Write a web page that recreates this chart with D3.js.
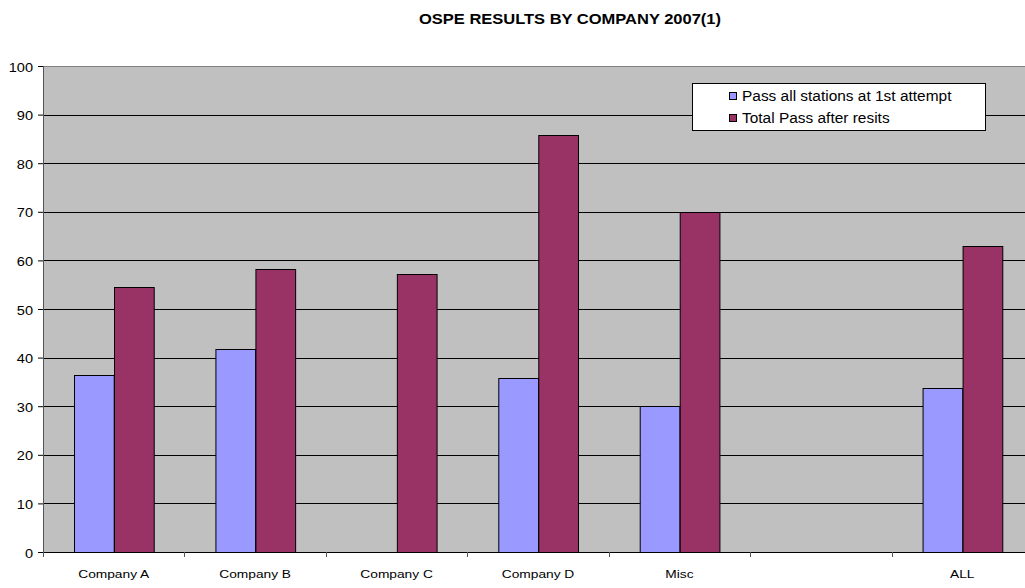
<!DOCTYPE html>
<html>
<head>
<meta charset="utf-8">
<script src="https://cdn.jsdelivr.net/npm/d3@7"></script>
<style>
  body { margin: 0; background: #fff; }
  svg { font-family: "Liberation Sans", Arial, sans-serif; }
</style>
</head>
<body>
<div id="chart"></div>
<script>
// data
var categories = ["Company A", "Company B", "Company C", "Company D", "Misc", "", "ALL"];
var firstAttempt = [36.4, 41.7, null, 35.7, 30, null, 33.7];
var totalPass = [54.5, 58.3, 57.1, 85.7, 70, null, 63.0];
var seriesNames = ["Pass all stations at 1st attempt", "Total Pass after resits"];
var yTicks = [0, 10, 20, 30, 40, 50, 60, 70, 80, 90, 100];

var colors = ["#9999ff", "#993366"];

var W = 1025, H = 588;
var margin = {top: 66, right: -8, bottom: 36, left: 43};
var width = W - margin.left - margin.right;
var height = H - margin.top - margin.bottom;

var svg = d3.select("#chart").append("svg")
    .attr("width", W)
    .attr("height", H);

// title (the original text looks stretched sideways)
svg.append("text")
    .attr("transform", "translate(570,24) scale(1.1,1)")
    .attr("text-anchor", "middle")
    .attr("font-size", "15px")
    .attr("font-weight", "bold")
    .text("OSPE RESULTS BY COMPANY 2007(1)");

var g = svg.append("g")
    .attr("transform", "translate(" + margin.left + "," + margin.top + ")");

var xscale = d3.scaleBand()
    .domain(d3.range(categories.length))
    .range([0, width])
    .paddingInner(0)
    .paddingOuter(0);

var inner = d3.scaleBand()
    .domain([0, 1])
    .range([31, xscale.bandwidth() - 31])
    .padding(0);

var yscale = d3.scaleLinear()
    .domain([0, 100])
    .range([height, 0]);

// plot background
g.append("rect")
    .attr("x", 0).attr("y", 0)
    .attr("width", width).attr("height", height)
    .attr("fill", "#c0c0c0");

// top border
g.append("line")
    .attr("x1", 0).attr("x2", width)
    .attr("y1", 0.5).attr("y2", 0.5)
    .attr("stroke", "#808080");

// gridlines
g.selectAll(".grid")
    .data(yTicks.filter(function(d) { return d > 0 && d < 100; }))
    .enter().append("line")
    .attr("class", "grid")
    .attr("x1", 0).attr("x2", width)
    .attr("y1", function(d) { return Math.round(yscale(d)) + 0.5; })
    .attr("y2", function(d) { return Math.round(yscale(d)) + 0.5; })
    .attr("stroke", "#000");

// bars
var rows = categories.map(function(c, i) {
  return {i: i, vals: [firstAttempt[i], totalPass[i]]};
});

var groups = g.selectAll(".grp")
    .data(rows)
    .enter().append("g")
    .attr("class", "grp")
    .attr("transform", function(d) { return "translate(" + xscale(d.i) + ",0)"; });

groups.selectAll("rect")
    .data(function(d) {
      return d.vals.map(function(v, k) { return {k: k, v: v}; })
        .filter(function(e) { return e.v != null; });
    })
    .enter().append("rect")
    .attr("x", function(d) { return Math.round(inner(d.k)) + 0.5; })
    .attr("width", inner.bandwidth())
    .attr("y", function(d) { return Math.round(yscale(d.v)) + 0.5; })
    .attr("height", function(d) { return Math.round(height - yscale(d.v)); })
    .attr("fill", function(d) { return colors[d.k]; })
    .attr("stroke", "#000")
    .attr("stroke-width", 1);

// y axis
var yaxis = d3.axisLeft(yscale).tickValues(yTicks).tickSize(5).tickFormat("");
var ya = g.append("g").attr("class", "y_axis").call(yaxis);
ya.select(".domain").attr("stroke", "#555").attr("d", "M0.5,0V" + height);
ya.selectAll(".tick line").attr("stroke", "#000");
ya.selectAll(".tick").append("text")
    .attr("transform", "translate(-10,5) scale(1.12,1)")
    .attr("text-anchor", "end")
    .attr("font-size", "13px")
    .attr("fill", "#000")
    .attr("font-family", "Liberation Sans, Arial, sans-serif")
    .text(function(d) { return d; });

// x axis
var xa = g.append("g")
    .attr("transform", "translate(0," + height + ")");
xa.append("line")
    .attr("x1", 0).attr("x2", width)
    .attr("y1", 0.5).attr("y2", 0.5)
    .attr("stroke", "#000");
xa.selectAll(".xt")
    .data(d3.range(categories.length + 1))
    .enter().append("line")
    .attr("class", "xt")
    .attr("x1", function(d) { return Math.round(d * xscale.bandwidth()) + 0.5; })
    .attr("x2", function(d) { return Math.round(d * xscale.bandwidth()) + 0.5; })
    .attr("y1", 0).attr("y2", 5)
    .attr("stroke", "#555");
xa.selectAll(".xl")
    .data(categories)
    .enter().append("text")
    .attr("class", "xl")
    .attr("transform", function(d, i) {
      return "translate(" + (xscale(i) + xscale.bandwidth() / 2) + ",26) scale(1.25,1)";
    })
    .attr("text-anchor", "middle")
    .attr("font-size", "11px")
    .text(function(d) { return d; });

// legend
var lg = svg.append("g").attr("transform", "translate(692,83)");
lg.append("rect")
    .attr("x", 0.5).attr("y", 0.5)
    .attr("width", 293).attr("height", 47)
    .attr("fill", "#fff")
    .attr("stroke", "#000");
seriesNames.forEach(function(name, k) {
  lg.append("rect")
      .attr("x", 37.5).attr("y", 9.5 + k * 22)
      .attr("width", 7).attr("height", 7)
      .attr("fill", colors[k])
      .attr("stroke", "#000");
  lg.append("text")
      .attr("transform", "translate(50," + (18 + k * 22) + ") scale(1.03,1)")
      .attr("font-size", "15px")
      .text(name);
});
</script>
</body>
</html>
